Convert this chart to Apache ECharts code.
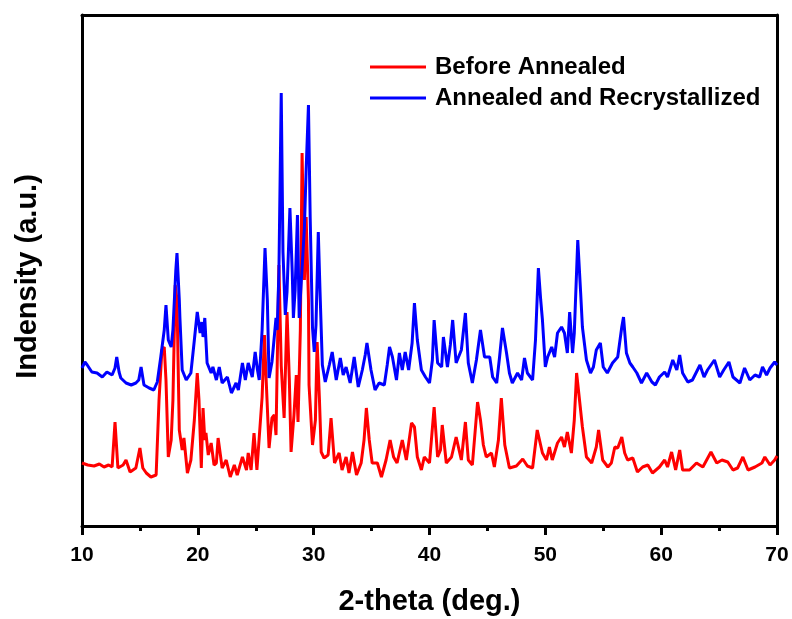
<!DOCTYPE html>
<html>
<head>
<meta charset="utf-8">
<script src="https://cdn.jsdelivr.net/npm/echarts@6/dist/echarts.min.js"></script>
<style>
  html, body { margin: 0; padding: 0; background: #fff; }
  #chart { width: 792px; height: 619px; }
</style>
</head>
<body>
<div id="chart"></div>
<script>
// XRD patterns, 2-theta (deg.) vs intensity (arbitrary units)
const seriesNames = ['Before Annealed', 'Annealed and Recrystallized'];
const xTicks = [10, 20, 30, 40, 50, 60, 70];

const beforeAnnealed = [
  [10.0, 63], [10.5, 61], [11.04, 60], [11.5, 62], [11.9, 59], [12.3, 61], [12.6, 59], [12.85, 104], [13.1, 58],
  [13.55, 61], [13.8, 66], [14.15, 54], [14.65, 58], [15.0, 78], [15.25, 58], [15.55, 53], [15.95, 49],
  [16.4, 51], [16.65, 126], [16.9, 176], [17.1, 179], [17.25, 146], [17.45, 69], [17.7, 86], [17.85, 126],
  [18.05, 241], [18.2, 226], [18.4, 96], [18.65, 76], [18.8, 88], [19.1, 53], [19.4, 66], [19.7, 106],
  [19.95, 153], [20.1, 126], [20.3, 58], [20.45, 118], [20.6, 86], [20.7, 93], [20.9, 71], [21.15, 83],
  [21.4, 61], [21.6, 63], [21.75, 88], [22.1, 58], [22.45, 66], [22.8, 49], [23.15, 61], [23.4, 51],
  [23.85, 69], [24.2, 56], [24.35, 73], [24.6, 56], [24.85, 93], [25.1, 56], [25.55, 129], [25.75, 191],
  [25.9, 146], [26.15, 78], [26.4, 108], [26.6, 111], [26.75, 91], [27.0, 261], [27.2, 160], [27.45, 108],
  [27.7, 214], [27.9, 146], [28.05, 74], [28.3, 111], [28.5, 151], [28.65, 104], [28.85, 196], [29.0, 373],
  [29.2, 246], [29.35, 309], [29.55, 226], [29.6, 141], [29.9, 81], [30.15, 106], [30.3, 184], [30.5, 126],
  [30.65, 74], [30.9, 68], [31.25, 71], [31.5, 108], [31.8, 63], [32.2, 73], [32.45, 56], [32.8, 69],
  [33.05, 53], [33.35, 74], [33.7, 51], [34.1, 63], [34.35, 86], [34.55, 118], [34.8, 86], [35.05, 63],
  [35.5, 63], [35.85, 49], [36.25, 66], [36.6, 86], [36.9, 69], [37.2, 63], [37.65, 86], [38.0, 66],
  [38.45, 103], [38.7, 99], [38.95, 69], [39.3, 56], [39.55, 69], [40.0, 63], [40.4, 119], [40.7, 69],
  [40.95, 76], [41.1, 101], [41.45, 63], [41.9, 69], [42.3, 89], [42.75, 66], [43.1, 104], [43.35, 66],
  [43.7, 61], [44.15, 124], [44.4, 106], [44.65, 81], [44.9, 69], [45.35, 73], [45.6, 59], [45.95, 86],
  [46.2, 128], [46.5, 81], [46.9, 58], [47.5, 60], [48.05, 67], [48.45, 60], [48.9, 58], [49.3, 96],
  [49.75, 73], [50.1, 66], [50.35, 79], [50.6, 66], [51.05, 83], [51.4, 89], [51.65, 79], [51.9, 94],
  [52.25, 73], [52.5, 106], [52.7, 153], [52.95, 126], [53.2, 99], [53.55, 69], [54.0, 63], [54.4, 79],
  [54.6, 96], [54.95, 66], [55.4, 59], [55.7, 63], [56.0, 79], [56.25, 78], [56.6, 89], [56.85, 73],
  [57.1, 66], [57.55, 68], [57.95, 54], [58.4, 59], [58.85, 61], [59.25, 53], [59.85, 59], [60.3, 66],
  [60.55, 59], [60.9, 74], [61.25, 56], [61.6, 76], [61.85, 56], [62.45, 56], [63.05, 63], [63.6, 59],
  [64.3, 74], [64.8, 63], [65.25, 66], [65.75, 64], [66.2, 56], [66.6, 58], [67.05, 69], [67.5, 56],
  [68.1, 59], [68.7, 63], [68.95, 69], [69.4, 61], [69.8, 66], [70.0, 70]
];

const annealedRecryst = [
  [10.0, 158], [10.25, 164], [10.45, 161], [10.85, 154], [11.3, 153], [11.75, 149], [12.15, 154], [12.6, 151],
  [12.85, 158], [13.0, 169], [13.2, 154], [13.35, 148], [13.8, 143], [14.25, 141], [14.65, 143], [14.9, 146],
  [15.1, 159], [15.35, 141], [15.8, 138], [16.2, 136], [16.5, 144], [16.8, 169], [17.1, 196], [17.25, 221],
  [17.45, 186], [17.7, 179], [17.85, 196], [18.1, 256], [18.2, 273], [18.4, 226], [18.45, 209], [18.65, 156],
  [19.0, 146], [19.4, 153], [19.7, 186], [19.95, 214], [20.2, 193], [20.35, 204], [20.45, 189], [20.6, 208],
  [20.8, 163], [21.15, 153], [21.3, 159], [21.6, 146], [21.85, 159], [22.1, 143], [22.55, 149], [22.9, 133],
  [23.3, 143], [23.5, 136], [23.85, 163], [24.1, 146], [24.35, 163], [24.7, 149], [24.95, 174], [25.15, 156],
  [25.3, 146], [25.55, 196], [25.8, 278], [26.0, 226], [26.15, 148], [26.4, 164], [26.75, 208], [26.85, 196],
  [27.0, 254], [27.2, 433], [27.35, 274], [27.55, 211], [27.7, 234], [27.95, 318], [28.15, 254], [28.25, 208],
  [28.4, 236], [28.6, 311], [28.75, 208], [28.95, 248], [29.2, 298], [29.35, 356], [29.55, 421], [29.7, 308],
  [29.9, 198], [30.05, 174], [30.2, 201], [30.4, 294], [30.55, 234], [30.75, 161], [31.0, 144], [31.35, 161],
  [31.6, 174], [31.95, 146], [32.3, 168], [32.55, 151], [32.8, 159], [33.15, 143], [33.5, 169], [33.85, 139],
  [34.2, 156], [34.45, 171], [34.6, 183], [34.95, 156], [35.3, 136], [35.65, 143], [36.1, 141], [36.35, 161],
  [36.55, 179], [36.8, 169], [37.15, 146], [37.4, 173], [37.65, 156], [37.9, 174], [38.2, 156], [38.5, 183],
  [38.7, 223], [38.95, 186], [39.3, 156], [39.65, 149], [40.0, 143], [40.25, 166], [40.4, 206], [40.7, 163],
  [41.05, 159], [41.2, 189], [41.55, 159], [41.8, 181], [42.0, 206], [42.3, 163], [42.75, 176], [43.1, 213],
  [43.35, 163], [43.7, 143], [44.05, 166], [44.4, 196], [44.75, 169], [45.2, 169], [45.45, 149], [45.8, 143],
  [46.05, 169], [46.3, 198], [46.65, 173], [46.9, 153], [47.15, 143], [47.6, 153], [47.95, 146], [48.2, 168],
  [48.45, 153], [48.9, 146], [49.15, 186], [49.4, 258], [49.6, 226], [49.75, 206], [50.0, 159], [50.2, 169],
  [50.55, 179], [50.8, 169], [51.05, 193], [51.4, 199], [51.65, 193], [51.9, 173], [52.1, 214], [52.35, 173],
  [52.5, 193], [52.8, 286], [53.05, 233], [53.2, 199], [53.55, 166], [53.9, 153], [54.15, 159], [54.4, 176],
  [54.75, 183], [55.0, 159], [55.35, 153], [55.8, 163], [56.25, 169], [56.6, 199], [56.75, 209], [57.0, 173],
  [57.3, 163], [57.55, 159], [57.9, 153], [58.3, 143], [58.75, 153], [59.2, 144], [59.5, 141], [59.85, 149],
  [60.3, 154], [60.55, 149], [61.0, 166], [61.35, 156], [61.6, 171], [61.85, 153], [62.3, 144], [62.7, 146],
  [63.35, 161], [63.7, 149], [64.0, 156], [64.6, 166], [65.05, 149], [65.4, 156], [65.85, 164], [66.2, 149],
  [66.8, 143], [67.2, 158], [67.65, 146], [68.1, 151], [68.5, 149], [68.75, 159], [69.1, 151], [69.4, 158],
  [69.8, 164], [70.0, 161]
];

const font = 'Liberation Sans, Arial, sans-serif';
const chart = echarts.init(document.getElementById('chart'));

chart.setOption({
  animation: false,
  backgroundColor: '#fff',
  grid: { left: 82, right: 15, top: 15, bottom: 93, outerBoundsMode: 'none', containLabel: false },
  legend: {
    orient: 'vertical',
    left: 365,
    top: 50,
    icon: 'rect',
    itemWidth: 56,
    itemHeight: 3,
    itemGap: 7,
    data: seriesNames,
    textStyle: { fontFamily: font, fontSize: 24, fontWeight: 'bold', color: '#000', padding: [0, 0, 0, 4] }
  },
  xAxis: [{
    type: 'value',
    min: xTicks[0],
    max: xTicks[xTicks.length - 1],
    interval: 10,
    name: '2-theta (deg.)',
    nameLocation: 'middle',
    nameGap: 61,
    nameTextStyle: { fontFamily: font, fontSize: 29, fontWeight: 'bold', color: '#000' },
    axisLine: { onZero: false, lineStyle: { color: '#000', width: 3 } },
    axisTick: { inside: false, length: 9, lineStyle: { color: '#000', width: 3 } },
    minorTick: { show: true, splitNumber: 2, length: 5, lineStyle: { color: '#000', width: 3 } },
    axisLabel: { fontFamily: font, fontSize: 21, fontWeight: 'bold', color: '#000', margin: 19 },
    splitLine: { show: false }
  }, {
    type: 'value',
    position: 'top',
    min: xTicks[0],
    max: xTicks[xTicks.length - 1],
    axisLine: { onZero: false, lineStyle: { color: '#000', width: 3 } },
    axisTick: { show: false },
    axisLabel: { show: false },
    splitLine: { show: false }
  }],
  yAxis: [{
    type: 'value',
    min: 0,
    max: 511,
    name: 'Indensity (a.u.)',
    nameLocation: 'middle',
    nameGap: 40,
    nameTextStyle: { fontFamily: font, fontSize: 29, fontWeight: 'bold', color: '#000', padding: [0, 12, 0, 0] },
    axisLine: { show: true, onZero: false, lineStyle: { color: '#000', width: 3 } },
    axisTick: { show: false },
    axisLabel: { show: false },
    splitLine: { show: false }
  }, {
    type: 'value',
    position: 'right',
    min: 0,
    max: 511,
    axisLine: { show: true, onZero: false, lineStyle: { color: '#000', width: 3 } },
    axisTick: { show: false },
    axisLabel: { show: false },
    splitLine: { show: false }
  }],
  series: [{
    name: seriesNames[0],
    type: 'line',
    data: beforeAnnealed,
    showSymbol: false,
    symbol: 'none',
    color: '#ff0000',
    lineStyle: { color: '#ff0000', width: 3 },
    z: 2
  }, {
    name: seriesNames[1],
    type: 'line',
    data: annealedRecryst,
    showSymbol: false,
    symbol: 'none',
    color: '#0000ff',
    lineStyle: { color: '#0000ff', width: 3 },
    z: 3
  }]
});
</script>
</body>
</html>
